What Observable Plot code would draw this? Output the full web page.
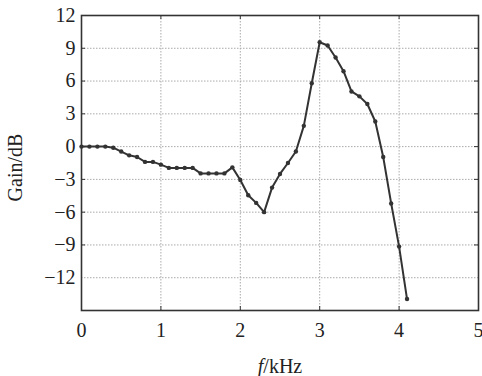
<!DOCTYPE html>
<html>
<head>
<meta charset="utf-8">
<script src="https://cdn.jsdelivr.net/npm/d3@7"></script>
<script src="https://cdn.jsdelivr.net/npm/@observablehq/plot@0.6"></script>
<style>
  html, body { margin: 0; padding: 0; background: #fff; }
</style>
</head>
<body>
<div id="chart"></div>
<script>
const freqKHz = [0.0,0.1,0.2,0.3,0.4,0.5,0.6,0.7,0.8,0.9,1.0,1.1,1.2,1.3,1.4,1.5,1.6,1.7,1.8,1.9,2.0,2.1,2.2,2.3,2.4,2.5,2.6,2.7,2.8,2.9,3.0,3.1,3.2,3.3,3.4,3.5,3.6,3.7,3.8,3.9,4.0,4.1];
const gainDB = [0,0,0,0,-0.1,-0.45,-0.8,-0.95,-1.4,-1.4,-1.65,-1.95,-1.95,-1.95,-1.95,-2.45,-2.45,-2.45,-2.45,-1.9,-3.05,-4.45,-5.15,-6.0,-3.75,-2.5,-1.5,-0.45,1.9,5.8,9.55,9.25,8.15,6.9,5.05,4.6,3.9,2.3,-0.95,-5.2,-9.15,-13.95];
const xTicks = [0,1,2,3,4,5];
const yTicks = [-12,-9,-6,-3,0,3,6,9,12];
const xGrid = [1,2,3,4];
const yGrid = [-12,-9,-6,-3,0,3,6,9];
const xLabel = "f/kHz";
const yLabel = "Gain/dB";

const data = freqKHz.map((f, i) => ({f, g: gainDB[i]}));

const W = 482, H = 376;
const mL = 81, mR = 4, mT = 15, mB = 66;
const fw = W - mL - mR, fh = H - mT - mB;
const tick = 4;

const chart = Plot.plot({
  width: W,
  height: H,
  marginLeft: mL,
  marginRight: mR,
  marginTop: mT,
  marginBottom: mB,
  style: {fontFamily: "'Liberation Serif', 'Times New Roman', serif", fontSize: "20px", color: "#222", background: "#fff"},
  x: {domain: [0, 5]},
  y: {domain: [-15, 12]},
  marks: [
    Plot.gridX(xGrid, {stroke: "#aaa", strokeOpacity: 1, strokeDasharray: "1.5,1.5", strokeWidth: 1}),
    Plot.gridY(yGrid, {stroke: "#aaa", strokeOpacity: 1, strokeDasharray: "1.5,1.5", strokeWidth: 1}),
    Plot.tickX(xGrid, {x: d => d, insetTop: fh - tick, stroke: "#333"}),
    Plot.tickX(xGrid, {x: d => d, insetBottom: fh - tick, stroke: "#333"}),
    Plot.tickY(yTicks.slice(1, -1), {y: d => d, insetRight: fw - tick, stroke: "#333"}),
    Plot.tickY(yTicks.slice(1, -1), {y: d => d, insetLeft: fw - tick, stroke: "#333"}),
    Plot.axisX(xTicks, {tickSize: 0, tickPadding: 12, label: null, fontSize: 20}),
    Plot.axisY(yTicks, {tickSize: 0, tickPadding: 6, label: null, fontSize: 20}),
    Plot.frame({stroke: "#333", strokeWidth: 1.6}),
    Plot.line(data, {x: "f", y: "g", stroke: "#333", strokeWidth: 2}),
    Plot.dot(data, {x: "f", y: "g", r: 2.2, fill: "#333", stroke: "none"}),
    Plot.text([xLabel], {frameAnchor: "bottom", text: d => d, dy: 56, lineAnchor: "middle", textAnchor: "middle", fontSize: 20, fill: "#222"}),
    Plot.text([yLabel], {frameAnchor: "left", text: d => d, dx: -65.5, dy: 4.5, rotate: -90, lineAnchor: "middle", textAnchor: "middle", fontSize: 20, fill: "#222"})
  ]
});

// italicise the "f" in the x label
d3.select(chart).selectAll("text").each(function() {
  if (this.textContent === xLabel) {
    const t = d3.select(this);
    t.text(null);
    t.append("tspan").attr("font-style", "italic").text("f");
    t.append("tspan").text(xLabel.slice(1));
  }
});

document.getElementById("chart").appendChild(chart);
</script>
</body>
</html>
